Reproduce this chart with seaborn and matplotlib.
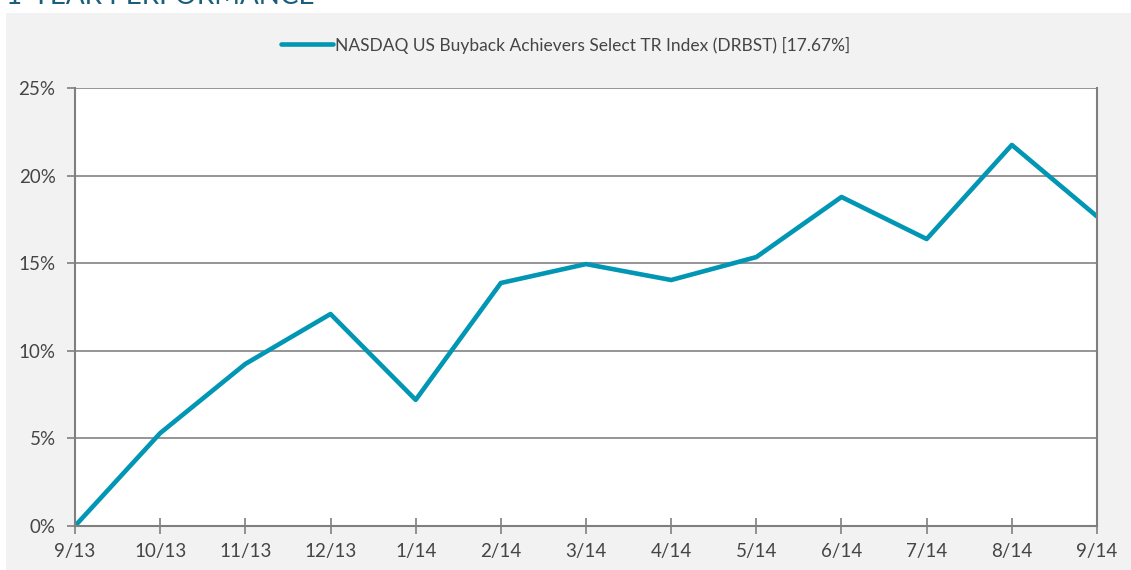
import matplotlib
matplotlib.use("Agg")
import matplotlib.pyplot as plt
from matplotlib.patches import Rectangle
import seaborn as sns
import pandas as pd

# values (cumulative total return, %)
months = ["9/13", "10/13", "11/13", "12/13", "1/14", "2/14", "3/14",
          "4/14", "5/14", "6/14", "7/14", "8/14", "9/14"]
returns = [0.0, 5.3, 9.25, 12.1, 7.2, 13.87, 14.95,
           14.04, 15.35, 18.78, 16.38, 21.75, 17.67]
y_ticks = [0, 5, 10, 15, 20, 25]
series_name = "NASDAQ US Buyback Achievers Select TR Index (DRBST) [17.67%]"
title = "1-YEAR PERFORMANCE"

sns.set_theme(style="white")
plt.rcParams["font.family"] = ["Lato", "DejaVu Sans"]

line_color = "#0096b4"
grid_color = "#8c8c8c"
text_color = "#454545"

df = pd.DataFrame({"month": months, "ret": returns})

fig = plt.figure(figsize=(11.31, 5.70), dpi=100, facecolor="white")

# grey panel behind the chart
fig.patches.append(Rectangle((6 / 1131, 0), 1 - 6 / 1131, 1 - 13 / 570,
                             transform=fig.transFigure, facecolor="#f2f2f2",
                             edgecolor="none", zorder=-5))
# section heading, clipped at the top like the source
fig.text(6 / 1131, 1 - 4 / 570, title, color="#1b5d7e", fontsize=20,
         va="baseline", ha="left")

ax = fig.add_axes([75 / 1131, 44 / 570, (1097 - 75) / 1131, (526 - 88) / 570])
ax.set_zorder(2)
ax.set_facecolor("white")

sns.lineplot(data=df, x="month", y="ret", ax=ax, color=line_color,
             linewidth=3.3, sort=False, label=series_name)

ax.set_xlim(0, len(months) - 1)
ax.set_ylim(0, 25)
ax.set_yticks(y_ticks)
ax.set_yticklabels([f"{v}%" for v in y_ticks])
ax.set_xticks(range(len(months)))
ax.set_xticklabels(months)
ax.set_xlabel("")
ax.set_ylabel("")

ax.yaxis.grid(True, color=grid_color, linewidth=1.3)
ax.xaxis.grid(False)
for side in ["left", "bottom", "right"]:
    ax.spines[side].set_visible(True)
    ax.spines[side].set_color("#7f7f7f")
    ax.spines[side].set_linewidth(1.5)
ax.spines["top"].set_visible(False)

ax.tick_params(axis="y", direction="out", length=6, width=1.2,
               color="#7f7f7f", left=True, labelsize=13.5, labelcolor=text_color,
               pad=8)
ax.tick_params(axis="x", direction="inout", length=12, width=1.2,
               color="#7f7f7f", bottom=True, labelsize=13.5, labelcolor=text_color,
               pad=6)

leg = ax.legend(loc="center", bbox_to_anchor=(0.5, 1 - 45 / 570),
                bbox_transform=fig.transFigure, frameon=False, fontsize=12.5,
                handlelength=3.0, handletextpad=0.1)
for t in leg.get_texts():
    t.set_color(text_color)

fig.savefig("out.png", dpi=100)
